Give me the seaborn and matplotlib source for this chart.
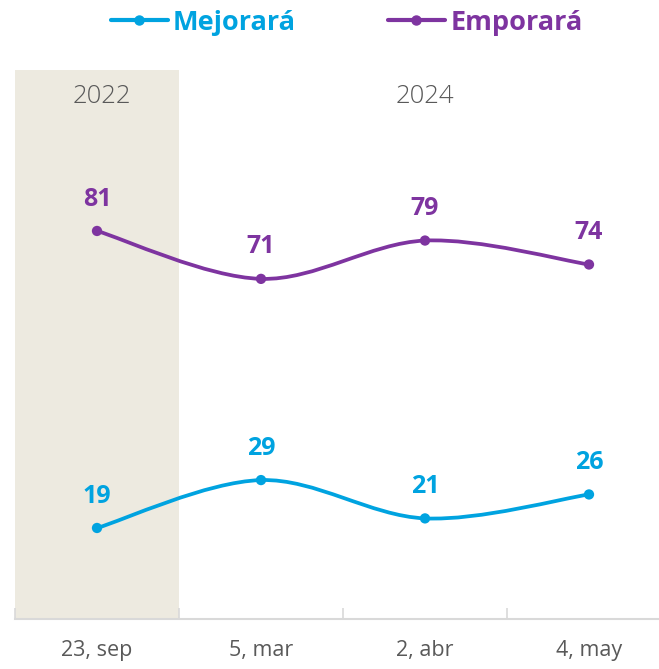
import numpy as np
import pandas as pd
import matplotlib.pyplot as plt
from matplotlib.path import Path
from matplotlib.patches import PathPatch
from matplotlib.lines import Line2D
import seaborn as sns

fechas = ['23, sep', '5, mar', '2, abr', '4, may']
mejorara = [19, 29, 21, 26]
emporara = [81, 71, 79, 74]
series = ['Mejorará', 'Emporará']
colores = ['#00A3E0', '#7E34A0']
anios = ['2022', '2024']

df = pd.DataFrame({
    'x': list(range(len(fechas))) * 2,
    'valor': mejorara + emporara,
    'serie': [series[0]] * len(fechas) + [series[1]] * len(fechas),
})

sns.set_theme(style='white')
plt.rcParams['font.family'] = ['Open Sans', 'DejaVu Sans']


def curva_suave(xs, ys):
    # Catmull-Rom como bezier, parecido a la linea suavizada de Excel
    pts = np.column_stack([xs, ys]).astype(float)
    ext = np.vstack([pts[0], pts, pts[-1]])
    verts = [pts[0]]
    codes = [Path.MOVETO]
    for i in range(len(pts) - 1):
        p0, p1, p2, p3 = ext[i], ext[i + 1], ext[i + 2], ext[i + 3]
        verts += [p1 + (p2 - p0) / 6, p2 - (p3 - p1) / 6, p2]
        codes += [Path.CURVE4] * 3
    return Path(verts, codes)


fig = plt.figure(figsize=(6.59, 6.69), dpi=100)
ax = fig.add_axes([15 / 659, 50 / 669, 644 / 659, 549 / 669])

ax.axvspan(-0.5, 0.5, color='#EDEAE0', zorder=0, lw=0)

for serie, color in zip(series, colores):
    sub = df[df['serie'] == serie]
    ax.add_patch(PathPatch(curva_suave(sub['x'], sub['valor']), fill=False,
                           edgecolor=color, lw=2.7, zorder=2, capstyle='round'))
    for x, v in zip(sub['x'], sub['valor']):
        ax.annotate(str(v), (x, v), xytext=(0, 23), textcoords='offset points',
                    ha='center', va='center', color=color, fontsize=18,
                    fontweight='bold')

sns.scatterplot(data=df, x='x', y='valor', hue='serie', palette=colores,
                s=55, edgecolor='none', legend=False, zorder=3, ax=ax)

ax.text(0.03, 109, anios[0], ha='center', va='center', fontsize=18.5,
        color='#595959', fontweight='light')
ax.text(2.0, 109, anios[1], ha='center', va='center', fontsize=18.5,
        color='#595959', fontweight='light')

ax.set_xlim(-0.5, -0.5 + 644 / 164)
ax.set_ylim(0, 114.6)
ax.set_xticks(range(len(fechas)))
ax.set_xticklabels(fechas, fontsize=15.5, color='#595959')
ax.set_xticks([-0.5, 0.5, 1.5, 2.5], minor=True)
ax.tick_params(axis='x', which='major', length=0, pad=15)
ax.tick_params(axis='x', which='minor', length=8, width=1.2,
               color='#D9D9D9', direction='in', bottom=True)
ax.set_yticks([])
ax.set_xlabel('')
ax.set_ylabel('')
for lado in ['top', 'right', 'left']:
    ax.spines[lado].set_visible(False)
ax.spines['bottom'].set_color('#D9D9D9')
ax.spines['bottom'].set_linewidth(1.5)

handles = [Line2D([0], [0], color=c, lw=3, marker='o', markersize=6.5)
           for c in colores]
leg = fig.legend(handles, series, loc='center', bbox_to_anchor=(0.526, 0.966),
                 ncol=2, frameon=False, handlelength=2.1, handletextpad=0.2,
                 columnspacing=3.4, prop={'size': 19.5, 'weight': 'bold'})
for txt, c in zip(leg.get_texts(), colores):
    txt.set_color(c)

fig.savefig('out.png', dpi=100)
